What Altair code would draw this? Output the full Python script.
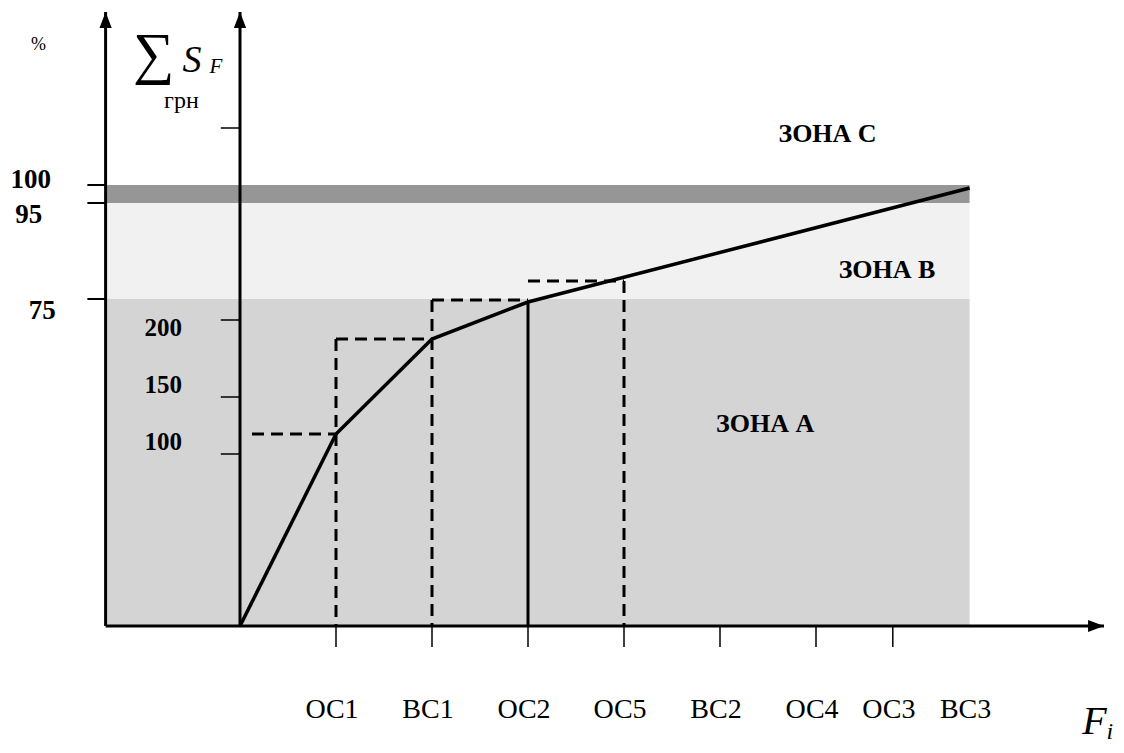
import altair as alt
import pandas as pd

# ---------------- data ----------------
# F_i axis categories and their positions (steps from the ΣS axis)
x_labels = ["ОС1", "ВС1", "ОС2", "ОС5", "ВС2", "ОС4", "ОС3", "ВС3"]
x_pos = [1, 2, 3, 4, 5, 6, 6.8, 7.6]
tick_pos = [1, 2, 3, 4, 5, 6, 6.8]

# cumulative curve ΣS_F
curve_x = [0, 1, 2, 3, 7.6]
curve_y = [0, 192, 287, 324, 438]

# percent axis (left)
pct_labels = ["100", "95", "75"]
pct_y = [441, 423, 327]

# ΣS axis (грн)
sum_labels = ["200", "150", "100"]
sum_y = [306, 229, 172]
sum_ticks = [498, 306, 229, 172]

# zones
zone_names = ["ЗОНА А", "ЗОНА  В", "ЗОНА С"]
zone_lo = [0, 327, 423]
zone_hi = [327, 423, 441]
zone_colors = ["#d4d4d4", "#f1f1f1", "#969696"]

# dashed projection segments
dash_x = [0.125, 1, 1, 2, 2, 3, 4]
dash_x2 = [1, 1, 2, 2, 3, 4, 4]
dash_y = [192, 287, 287, 326, 326, 345, 345]
dash_y2 = [192, 0, 287, 0, 326, 345, 0]

# ---------------- layout ----------------
W, H = 1108, 737
STEP = 96.0
X0 = 240 - 8          # ΣS axis in plot px
Y0 = 626 - 8          # F axis in plot px
XD = [-X0 / STEP, (W - X0) / STEP]
YD = [Y0 - H, Y0]
LEFT = -1.4
XEND = 9.0
YTOP = 614
FONT = "Liberation Serif"


def X(f):
    return alt.X(f, type="quantitative", scale=alt.Scale(domain=XD, nice=False, zero=False), axis=None)


def Y(f):
    return alt.Y(f, type="quantitative", scale=alt.Scale(domain=YD, nice=False, zero=False), axis=None)


layers = []

# zones
zdf = pd.DataFrame({"name": zone_names, "lo": zone_lo, "hi": zone_hi,
                    "c": zone_colors, "x": LEFT, "x2": x_pos[-1]})
layers.append(alt.Chart(zdf).mark_rect().encode(
    x=X("x"), x2="x2", y=Y("lo"), y2="hi",
    color=alt.Color("c:N", scale=None)))

# dashed projections
ddf = pd.DataFrame({"x": dash_x, "x2": dash_x2, "y": dash_y, "y2": dash_y2})
layers.append(alt.Chart(ddf).mark_rule(color="black", strokeWidth=3, strokeDash=[12, 7]).encode(
    x=X("x"), x2="x2", y=Y("y"), y2="y2"))

# solid drop line at ОС2
sdf = pd.DataFrame({"x": [curve_x[3]], "y": [curve_y[3]], "y2": [0]})
layers.append(alt.Chart(sdf).mark_rule(color="black", strokeWidth=3).encode(
    x=X("x"), y=Y("y"), y2="y2"))

# curve
cdf = pd.DataFrame({"x": curve_x, "y": curve_y})
layers.append(alt.Chart(cdf).mark_line(color="black", strokeWidth=3.5).encode(
    x=X("x"), y=Y("y")))

# axes lines
adf = pd.DataFrame({"x": [LEFT, 0, LEFT], "x2": [LEFT, 0, XEND],
                    "y": [0, 0, 0], "y2": [YTOP, YTOP, 0]})
layers.append(alt.Chart(adf).mark_rule(color="black", strokeWidth=3).encode(
    x=X("x"), x2="x2", y=Y("y"), y2="y2"))

# arrow heads
up = pd.DataFrame({"x": [LEFT, 0], "y": [YTOP, YTOP]})
layers.append(alt.Chart(up).mark_point(shape="M0,0L-1,2.6L1,2.6Z", filled=True, color="black",
                                       size=150, opacity=1, strokeWidth=0).encode(x=X("x"), y=Y("y")))
rt = pd.DataFrame({"x": [XEND], "y": [0]})
layers.append(alt.Chart(rt).mark_point(shape="M0,0L-2.6,-1L-2.6,1Z", filled=True, color="black",
                                       size=150, opacity=1, strokeWidth=0).encode(x=X("x"), y=Y("y")))

# ticks
tdf = pd.DataFrame({"x": tick_pos, "y": 0, "y2": -21})
layers.append(alt.Chart(tdf).mark_rule(color="black", strokeWidth=1.5).encode(
    x=X("x"), y=Y("y"), y2="y2"))
pdf_ = pd.DataFrame({"x": LEFT - 0.19, "x2": LEFT, "y": pct_y})
layers.append(alt.Chart(pdf_).mark_rule(color="black", strokeWidth=2).encode(
    x=X("x"), x2="x2", y=Y("y")))
sdf2 = pd.DataFrame({"x": -0.2, "x2": 0.0, "y": sum_ticks})
layers.append(alt.Chart(sdf2).mark_rule(color="black", strokeWidth=1.5).encode(
    x=X("x"), x2="x2", y=Y("y")))


def text_layer(df, size, weight="normal", style="normal", dx=0, align="center"):
    return alt.Chart(df).mark_text(font=FONT, fontSize=size, fontWeight=weight, fontStyle=style,
                                   align=align, baseline="alphabetic", color="black", dx=dx).encode(
        x=X("x"), y=Y("y"), text="t:N")


# x category labels
layers.append(text_layer(pd.DataFrame({"t": x_labels, "x": x_pos, "y": -92}), 28, dx=-4))

# percent labels
layers.append(text_layer(pd.DataFrame({"t": pct_labels, "x": [-2.18, -2.2, -2.06],
                                       "y": [438, 403, 307]}), 27, weight="bold"))
# ΣS labels
layers.append(text_layer(pd.DataFrame({"t": sum_labels, "x": -0.8,
                                       "y": [290, 233, 176]}), 25, weight="bold"))
# zone labels
layers.append(text_layer(pd.DataFrame({"t": zone_names, "x": [5.47, 6.74, 6.12],
                                       "y": [194, 348, 484]}), 26, weight="bold"))

# axis titles
layers.append(text_layer(pd.DataFrame({"t": ["%"], "x": [-2.1], "y": [576]}), 18))
layers.append(text_layer(pd.DataFrame({"t": ["∑"], "x": [-0.9], "y": [553]}), 58))
layers.append(text_layer(pd.DataFrame({"t": ["грн"], "x": [-0.61], "y": [518]}), 24))
layers.append(text_layer(pd.DataFrame({"t": ["S"], "x": [-0.5], "y": [554]}), 38, style="italic"))
layers.append(text_layer(pd.DataFrame({"t": ["F"], "x": [-0.25], "y": [553]}), 21, style="italic"))
layers.append(text_layer(pd.DataFrame({"t": ["F"], "x": [8.9], "y": [-108]}), 40, style="italic"))
layers.append(text_layer(pd.DataFrame({"t": ["i"], "x": [9.06], "y": [-113]}), 24, style="italic"))

chart = alt.layer(*layers).properties(
    width=W, height=H, padding=0, background="white",
    autosize=alt.AutoSizeParams(type="none")
).configure_view(strokeWidth=0, stroke=None)

chart.save("out.html", embed_options={"renderer": "svg", "actions": False})
